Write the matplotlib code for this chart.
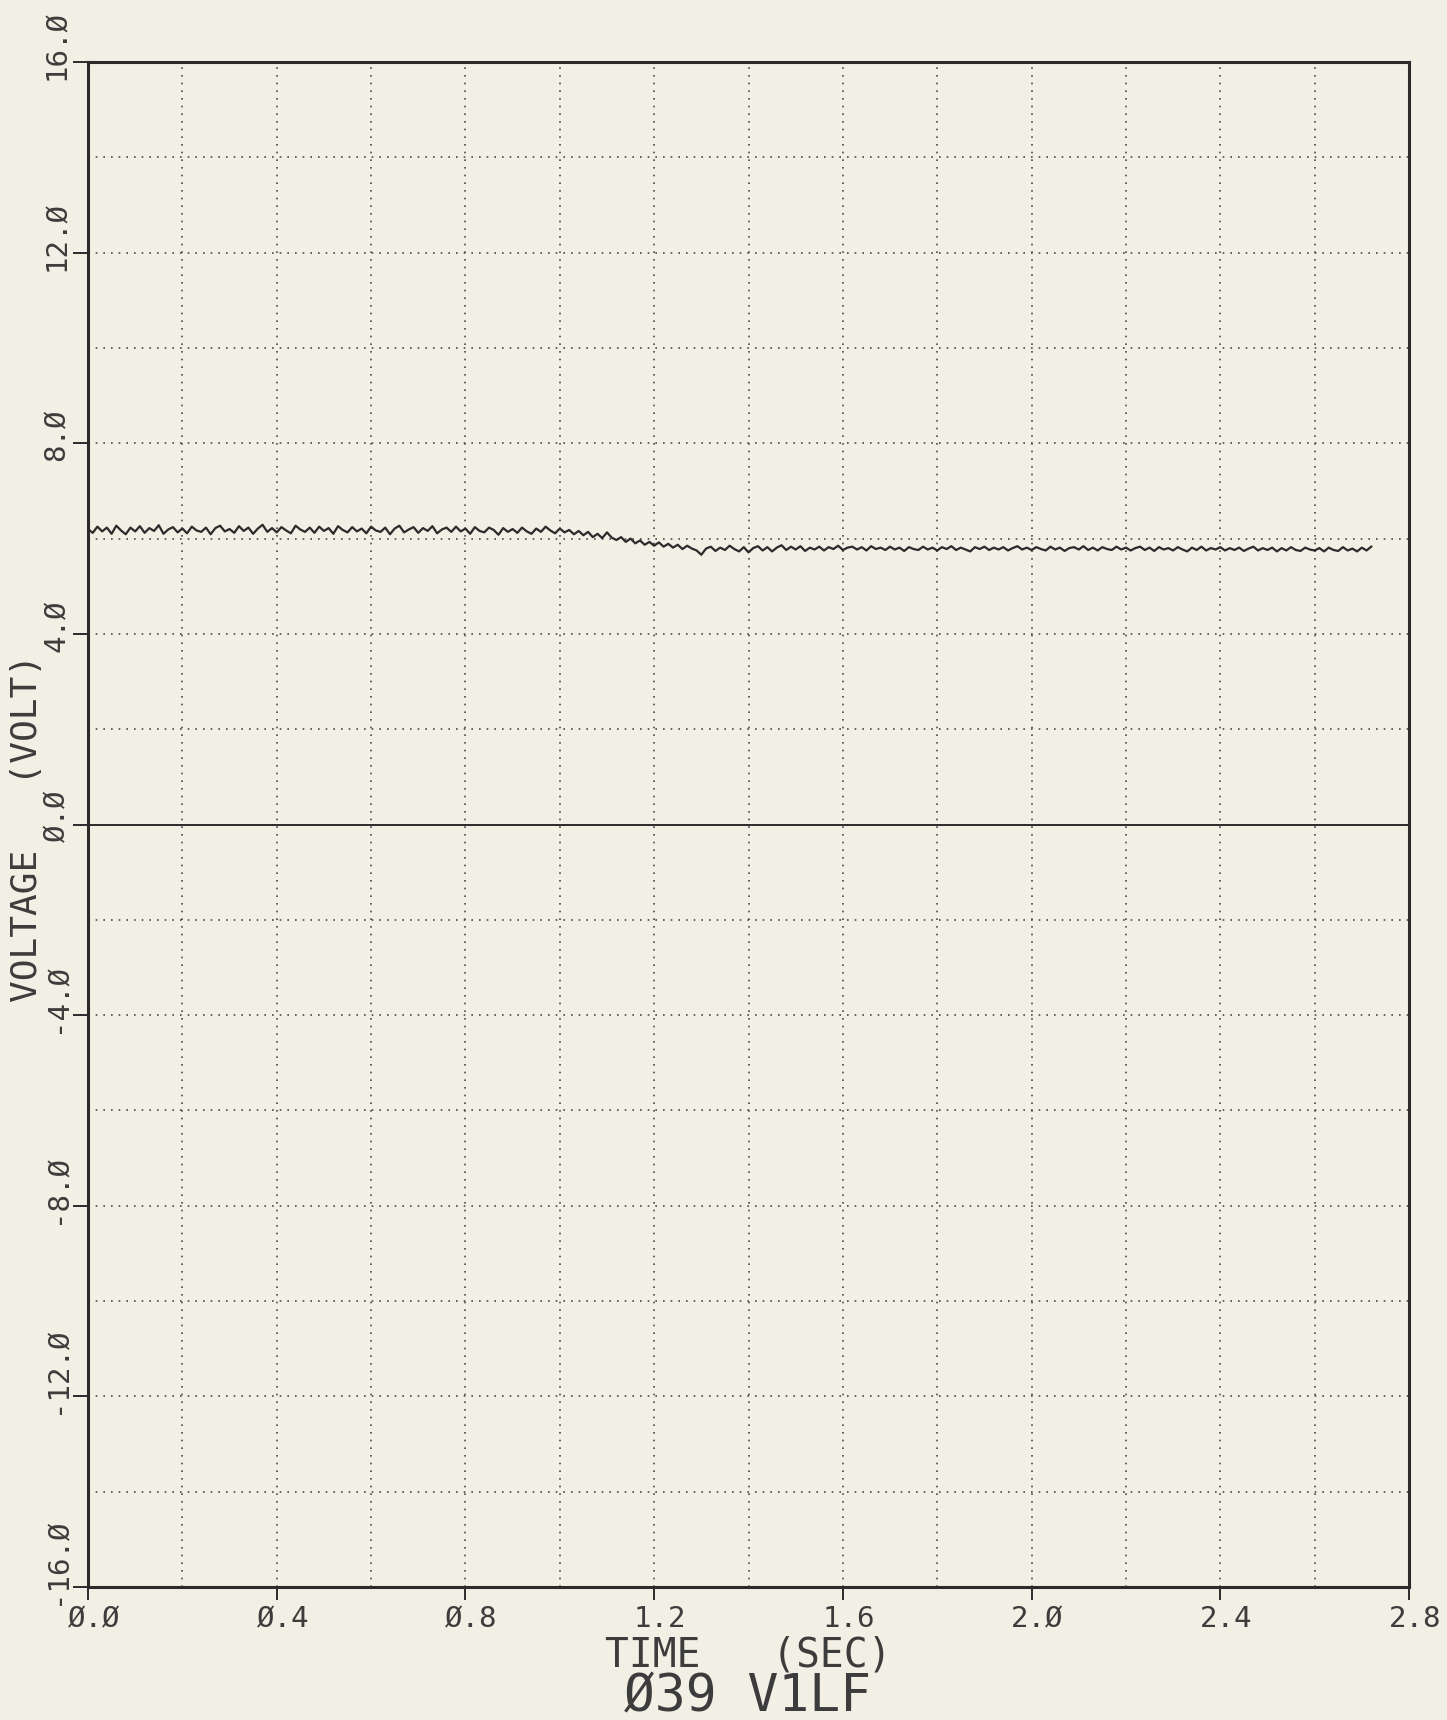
import numpy as np
import matplotlib
matplotlib.use("Agg")
from matplotlib import pyplot as plt
from matplotlib.ticker import MultipleLocator
from matplotlib.transforms import ScaledTranslation

t_start = 0.0
t_step = 0.01
volts = [
    6.20, 6.12, 6.25, 6.15, 6.23, 6.10, 6.27, 6.17, 6.09, 6.23,
    6.15, 6.26, 6.12, 6.22, 6.16, 6.28, 6.10, 6.19, 6.24, 6.13,
    6.21, 6.11, 6.25, 6.17, 6.14, 6.23, 6.09, 6.22, 6.27, 6.15,
    6.20, 6.12, 6.26, 6.16, 6.23, 6.10, 6.21, 6.29, 6.14, 6.22,
    6.13, 6.24, 6.17, 6.11, 6.27, 6.19, 6.14, 6.23, 6.12, 6.25,
    6.16, 6.22, 6.10, 6.26, 6.18, 6.13, 6.24, 6.15, 6.21, 6.11,
    6.25, 6.17, 6.14, 6.23, 6.09, 6.21, 6.27, 6.13, 6.19, 6.24,
    6.12, 6.22, 6.16, 6.26, 6.11, 6.19, 6.23, 6.14, 6.25, 6.15,
    6.21, 6.10, 6.24, 6.16, 6.13, 6.23, 6.18, 6.08, 6.22, 6.14,
    6.20, 6.12, 6.23, 6.15, 6.10, 6.21, 6.14, 6.25, 6.17, 6.11,
    6.21, 6.13, 6.18, 6.09, 6.16, 6.07, 6.14, 6.03, 6.10, 6.01,
    6.13, 6.02, 5.97, 6.03, 5.93, 6.00, 5.90, 5.96, 5.87, 5.93,
    5.85, 5.92, 5.83, 5.89, 5.81, 5.87, 5.78, 5.85, 5.79, 5.75,
    5.66, 5.79, 5.83, 5.74, 5.81, 5.76, 5.85, 5.78, 5.73, 5.82,
    5.71, 5.80, 5.84, 5.75, 5.82, 5.73, 5.81, 5.86, 5.76, 5.83,
    5.77, 5.84, 5.74, 5.81, 5.77, 5.83, 5.75, 5.82, 5.78, 5.85,
    5.76, 5.81, 5.83, 5.77, 5.82, 5.75, 5.84, 5.78, 5.81, 5.76,
    5.83, 5.77, 5.81, 5.74, 5.82, 5.78, 5.76, 5.83, 5.77, 5.81,
    5.75, 5.82, 5.78, 5.84, 5.76, 5.81, 5.77, 5.73, 5.82, 5.78,
    5.83, 5.76, 5.81, 5.77, 5.82, 5.75, 5.80, 5.84, 5.77, 5.81,
    5.76, 5.82, 5.78, 5.75, 5.83, 5.77, 5.81, 5.74, 5.80, 5.82,
    5.77, 5.84, 5.76, 5.81, 5.75, 5.82, 5.78, 5.76, 5.83, 5.77,
    5.81, 5.75, 5.80, 5.83, 5.76, 5.81, 5.74, 5.82, 5.77, 5.80,
    5.75, 5.82, 5.77, 5.73, 5.81, 5.76, 5.83, 5.75, 5.80, 5.77,
    5.82, 5.75, 5.80, 5.76, 5.81, 5.74, 5.79, 5.83, 5.75, 5.80,
    5.76, 5.81, 5.73, 5.80, 5.75, 5.82, 5.76, 5.74, 5.81, 5.77,
    5.75, 5.80, 5.73, 5.81, 5.76, 5.74, 5.82, 5.75, 5.79, 5.73,
    5.81, 5.75, 5.83,
]
t = t_start + t_step * np.arange(len(volts))

xticks = [0.0, 0.4, 0.8, 1.2, 1.6, 2.0, 2.4, 2.8]
yticks = [-16.0, -12.0, -8.0, -4.0, 0.0, 4.0, 8.0, 12.0, 16.0]
xlabel = "TIME   (SEC)"
ylabel = "VOLTAGE   (VOLT)"
title = "Ø39 V1LF"

def plotter_label(v):
    # the plotter draws slashed zeros
    return f"{v:.1f}".replace("0", "Ø")

paper = "#f2efe4"
ink = "#2b2b2b"
pen = "#3c3c3c"   # text looks lighter: thin plotter strokes
mono = "DejaVu Sans Mono"

fig = plt.figure(figsize=(14.47, 17.2), dpi=100, facecolor=paper)
ax = fig.add_axes([88/1447, 133/1720, 1321/1447, 1525/1720])
ax.set_facecolor(paper)

ax.plot(t, volts, color=ink, lw=1.6)
ax.axhline(0, color=ink, lw=1.4)

ax.set_xlim(0, 2.8)
ax.set_ylim(-16, 16)
ax.set_xticks(xticks)
ax.set_yticks(yticks)
ax.xaxis.set_minor_locator(MultipleLocator(0.2))
ax.yaxis.set_minor_locator(MultipleLocator(2))
ax.set_xticklabels([])
ax.set_yticklabels([])
ax.tick_params(which="major", axis="x", length=9, width=1.4, color=ink)
ax.tick_params(which="major", axis="y", length=11, width=1.4, color=ink)
ax.tick_params(which="minor", length=0)
ax.grid(which="both", color="#4a4a4a", lw=1.2, linestyle=(0, (1, 3.6)))
ax.set_axisbelow(True)
for s in ax.spines.values():
    s.set_linewidth(2.2)
    s.set_color(ink)

px = fig.dpi_scale_trans
for x in xticks:
    ax.text(x, 0, plotter_label(x), family=mono, fontsize=21, color=pen,
            ha="center", va="baseline",
            transform=ax.get_xaxis_transform() + ScaledTranslation(0.06, -0.40, px))
for y in yticks:
    ax.text(0, y, plotter_label(y), family=mono, fontsize=21, color=pen,
            rotation=90, rotation_mode="anchor", ha="left", va="baseline",
            transform=ax.get_yaxis_transform() + ScaledTranslation(-0.23, -0.18, px))

fig.text(748/1447, 53/1720, xlabel, family=mono, fontsize=28.5, color=pen,
         ha="center", va="baseline")
fig.text(37/1447, 892/1720, ylabel, family=mono, fontsize=26, color=pen,
         rotation=90, rotation_mode="anchor", ha="center", va="baseline")
fig.text(748/1447, 9/1720, title, family=mono, fontsize=37, color=pen,
         ha="center", va="baseline")

fig.savefig("out.png", dpi=100, facecolor=paper)
